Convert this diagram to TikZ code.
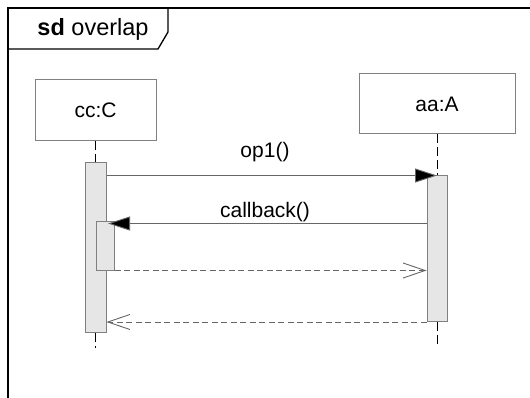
\documentclass[tikz,border=0pt]{standalone}
\usepackage{fontspec}
\setmainfont{Liberation Sans}
\usetikzlibrary{arrows.meta}
\definecolor{lgray}{HTML}{808080}
\definecolor{mgray}{HTML}{666666}
\definecolor{barfill}{HTML}{E6E6E6}
\begin{document}
\begin{tikzpicture}[x=1pt,y=-1pt,
  objbox/.style={draw=lgray, line width=1pt, fill=white, inner sep=0pt, font=\fontsize{21}{25}\selectfont},
  actbar/.style={draw=lgray, line width=1pt, fill=barfill, inner sep=0pt},
  lifeln/.style={draw=black, line width=0.8pt, dash pattern=on 9pt off 4pt},
  msgline/.style={draw=mgray, line width=0.9pt},
  retline/.style={draw=mgray, line width=0.9pt, dash pattern=on 6pt off 3.5pt},
  synctip/.style={-{Triangle[length=22pt,width=14pt,fill=black]}},
  opentip/.style={-{Straight Barb[length=22pt,width=15pt,line width=0.9pt]}},
  lbl/.style={inner sep=0pt, font=\fontsize{21}{25}\selectfont}]
\useasboundingbox (0,0) rectangle (530,398);
\fill[white] (0,0) rectangle (530,398);
% frame
\draw[line width=2pt] (8,398) -- (8,8) -- (530,8);
\draw[line width=1.3pt] (8,49) -- (158,49) -- (168,32) -- (168,8);
\node[lbl, font=\fontsize{23.5}{28}\selectfont] (title) at (93,29) {\textbf{sd} overlap};
% objects
\node[objbox, minimum width=121pt, minimum height=61pt] (c) at (95.5,110.5) {cc:C};
\node[objbox, minimum width=156pt, minimum height=60pt] (a) at (437,104) {aa:A};
% activation bars
\node[actbar, minimum width=21pt, minimum height=169pt] (act1) at (95.5,247.5) {};
\node[actbar, minimum width=20pt, minimum height=145pt] (act2) at (437,248.5) {};
\node[actbar, minimum width=18pt, minimum height=48pt] (nest) at (105,246) {};
\coordinate (cend) at (95.5,348);
\coordinate (aend) at (437,346);
% lifelines
\draw[lifeln] (c.south) -- (act1.north);
\draw[lifeln] (act1.south) -- (cend);
\draw[lifeln] (a.south) -- (act2.north);
\draw[lifeln] (act2.south) -- (aend);
% messages
\draw[msgline, synctip] (act1.east |- act2.north) -- (act2.north);
\node[lbl] (op1) at (265,152) {op1()};
\draw[msgline, synctip] ([yshift=-2pt]act2.west |- nest.north) -- ([yshift=-2pt,xshift=3pt]nest.north);
\node[lbl] (cb) at (265,212) {callback()};
\draw[retline, opentip] (nest.south east) -- (act2.west |- nest.south);
\draw[retline, opentip] ([yshift=-0.5pt]act2.south west) -- ([yshift=-0.5pt]act1.east |- act2.south);
\end{tikzpicture}
\end{document}
